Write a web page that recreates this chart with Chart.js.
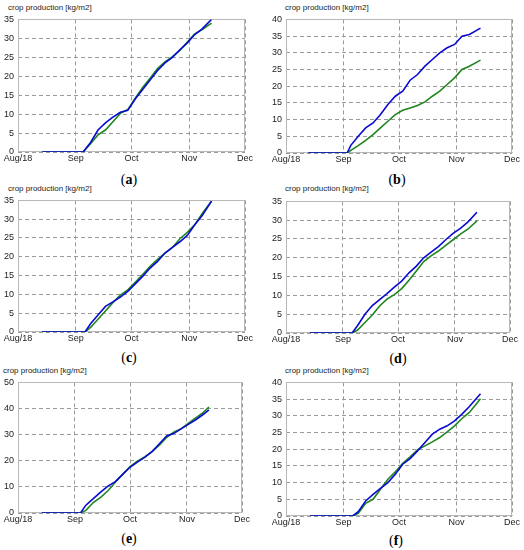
<!DOCTYPE html>
<html>
<head>
<meta charset="utf-8">
<script src="https://cdn.jsdelivr.net/npm/chart.js@4.4.0/dist/chart.umd.min.js"></script>
<style>
  body { margin: 0; background: #fff; width: 524px; height: 550px; position: relative; overflow: hidden;
         font-family: "Liberation Sans", Arial, sans-serif; }
  .panel { position: absolute; }
  .ttl { position: absolute; font-size: 8px; line-height: 10px; color: #222; white-space: nowrap; }
  .cap { position: absolute; font-family: "Liberation Serif", "Times New Roman", serif; font-size: 14px;
         line-height: 16px; color: #000; transform: translateX(-50%); white-space: nowrap; }
  .cap b { font-weight: bold; }
</style>
</head>
<body>
<script>
// x axis: days counted from 1 Aug 2018
const tickDays = [0, 31, 61, 92, 122];
const tickLabels = ['Aug/18', 'Sep', 'Oct', 'Nov', 'Dec'];
const titleText = 'crop production [kg/m2]';

// (a)
const daysA  = [13, 35, 39, 43, 47, 51, 55, 59, 63, 67, 71, 75, 79, 83, 87, 91, 95, 99, 104];
const blueA  = [0, 0, 2.5, 5.8, 7.7, 9.2, 10.5, 11, 14, 16.5, 19, 21.5, 23.5, 25, 27, 28.8, 31, 32.5, 35];
const greenA = [0, 0, 2.2, 4.5, 5.8, 8, 10.2, 11.2, 14.2, 17, 19.5, 22, 23.8, 25.2, 26.8, 29, 31.2, 32.3, 34];

// (b)
const daysB  = [12, 33, 35, 39, 43, 47, 51, 55, 59, 63, 67, 71, 75, 79, 83, 87, 91, 95, 99, 105];
const blueB  = [0, 0, 2.3, 5, 7.5, 9, 11.5, 14.5, 17, 18.5, 21.8, 23.5, 26, 28, 30, 31.5, 32.5, 35, 35.5, 37.4];
const greenB = [0, 0, 0.8, 2.2, 3.8, 5.5, 7.5, 9.5, 11.5, 12.8, 13.5, 14.2, 15.3, 17, 18.5, 20.5, 22.5, 25, 26, 27.8];

// (c)
const daysC  = [13, 36, 39, 43, 47, 51, 55, 59, 63, 67, 71, 75, 79, 83, 87, 91, 95, 99, 104];
const blueC  = [0, 0, 2.2, 4.5, 6.8, 8, 9.3, 10.8, 12.8, 14.8, 17, 18.8, 21, 22.5, 24, 25.7, 28.5, 31, 34.8];
const greenC = [0, 0, 1.2, 3.4, 5.6, 7.8, 9.8, 11.2, 13.2, 15.3, 17.5, 19.3, 21, 22.5, 24.8, 26.5, 28.5, 31.5, 34.8];

// (d)
const daysD  = [13, 36, 39, 43, 47, 51, 55, 59, 63, 67, 71, 75, 79, 83, 87, 91, 95, 99, 104];
const blueD  = [0, 0, 2, 5, 7.3, 8.9, 10.5, 12.2, 13.8, 16, 17.8, 20, 21.5, 23, 24.8, 26.5, 27.8, 29.5, 32.1];
const greenD = [0, 0, 0.8, 2.8, 4.8, 7.2, 9, 10.2, 11.8, 14, 16.5, 19, 20.5, 21.8, 23.3, 24.8, 26.3, 27.6, 29.8];

// (e)
const daysE  = [13, 34, 37, 41, 45, 49, 53, 57, 61, 65, 69, 73, 77, 81, 85, 89, 93, 97, 101, 104];
const blueE  = [0, 0, 3, 5.5, 8, 10.3, 12, 14.8, 17.5, 19.5, 21.3, 23.5, 26.5, 29.5, 30.5, 32.3, 34, 35.8, 37.8, 39.5];
const greenE = [0, 0, 1, 4, 6, 8.5, 11.8, 14.8, 17.8, 19.8, 21.5, 23.5, 26, 29, 31, 32.3, 34.5, 36.5, 38.5, 40.6];

// (f)
const daysF  = [13, 36, 39, 43, 47, 51, 55, 59, 63, 67, 71, 75, 79, 83, 87, 91, 95, 99, 105];
const blueF  = [0, 0, 1.3, 4.5, 6.5, 8.3, 10, 12.5, 15.5, 17.2, 19.5, 22, 24.5, 26, 27, 28.5, 30.5, 32.8, 36.6];
const greenF = [0, 0, 0.8, 3.8, 5, 8, 11, 13.2, 15.8, 17.7, 19.8, 21, 22.2, 23.5, 25.2, 27, 29.2, 31, 35.1];

// panel layout: plot box [left, top, right, bottom], title origin, caption centre
const panels = [
  { cap: 'a', days: daysA, blue: blueA, green: greenA, yMax: 35, yStep: 5,  box: [18, 16, 245, 152],  title: [8, 3],     capAt: [129, 180] },
  { cap: 'b', days: daysB, blue: blueB, green: greenB, yMax: 40, yStep: 5,  box: [286, 16, 512, 153], title: [285, 3],   capAt: [397, 180] },
  { cap: 'c', days: daysC, blue: blueC, green: greenC, yMax: 35, yStep: 5,  box: [18, 197, 245, 332], title: [8, 184],   capAt: [129, 358] },
  { cap: 'd', days: daysD, blue: blueD, green: greenD, yMax: 35, yStep: 5,  box: [286, 198, 510, 333], title: [285, 184], capAt: [398, 359] },
  { cap: 'e', days: daysE, blue: blueE, green: greenE, yMax: 50, yStep: 10, box: [18, 379, 242, 513], title: [3, 366],   capAt: [129, 539] },
  { cap: 'f', days: daysF, blue: blueF, green: greenF, yMax: 40, yStep: 5,  box: [286, 379, 512, 516], title: [285, 366], capAt: [396, 541] }
];

const YW = 20, PT = 6, PR = 12, XH = 14;
const gridColor = '#9a9a9a';

const framePlugin = {
  id: 'frame',
  beforeDatasetsDraw(chart) {
    const { ctx, chartArea: a } = chart;
    ctx.save();
    ctx.setLineDash([]);
    ctx.strokeStyle = '#b8b8b8';
    ctx.lineWidth = 1;
    ctx.strokeRect(Math.round(a.left) + 0.5, Math.round(a.top) + 0.5,
                   Math.round(a.right - a.left) - 1, Math.round(a.bottom - a.top) - 1);
    ctx.restore();
  }
};

function toPoints(days, vals) {
  return days.map((d, i) => ({ x: d, y: vals[i] }));
}

panels.forEach(p => {
  const [l, t, r, b] = p.box;

  const ttl = document.createElement('div');
  ttl.className = 'ttl';
  ttl.style.left = p.title[0] + 'px';
  ttl.style.top = p.title[1] + 'px';
  ttl.textContent = titleText;
  document.body.appendChild(ttl);

  const cap = document.createElement('div');
  cap.className = 'cap';
  cap.style.left = p.capAt[0] + 'px';
  cap.style.top = (p.capAt[1] - 8) + 'px';
  cap.innerHTML = '(<b>' + p.cap + '</b>)';
  document.body.appendChild(cap);

  const box = document.createElement('div');
  box.className = 'panel';
  box.style.left = (l - YW) + 'px';
  box.style.top = (t - PT) + 'px';
  box.style.width = (r - l + YW + PR) + 'px';
  box.style.height = (b - t + PT + XH) + 'px';
  const canvas = document.createElement('canvas');
  box.appendChild(canvas);
  document.body.appendChild(box);

  new Chart(canvas, {
    type: 'line',
    data: {
      datasets: [
        { label: 'blue', data: toPoints(p.days, p.blue), borderColor: '#0a0ad2', borderWidth: 1.6 },
        { label: 'green', data: toPoints(p.days, p.green), borderColor: '#1f861f', borderWidth: 1.6 }
      ]
    },
    options: {
      responsive: true,
      maintainAspectRatio: false,
      animation: false,
      layout: { padding: { top: PT, right: PR, left: 0, bottom: 0 } },
      elements: { point: { radius: 0 }, line: { tension: 0 } },
      plugins: { legend: { display: false }, tooltip: { enabled: false } },
      scales: {
        x: {
          type: 'linear',
          min: 0,
          max: 122,
          afterBuildTicks: s => { s.ticks = tickDays.map(v => ({ value: v })); },
          afterFit: s => { s.height = XH; },
          ticks: {
            autoSkip: false,
            maxRotation: 0,
            padding: 1,
            color: '#222',
            font: { family: '"Liberation Sans", Arial, sans-serif', size: 9 },
            callback: v => tickLabels[tickDays.indexOf(v)]
          },
          grid: { color: gridColor, lineWidth: 1, drawTicks: false },
          border: { display: false, dash: [4, 3] }
        },
        y: {
          min: 0,
          max: p.yMax,
          afterFit: s => { s.width = YW; },
          ticks: {
            stepSize: p.yStep,
            padding: 4,
            color: '#222',
            font: { family: '"Liberation Sans", Arial, sans-serif', size: 9 }
          },
          grid: { color: gridColor, lineWidth: 1, drawTicks: false },
          border: { display: false, dash: [4, 3] }
        }
      }
    },
    plugins: [framePlugin]
  });
});
</script>
</body>
</html>
